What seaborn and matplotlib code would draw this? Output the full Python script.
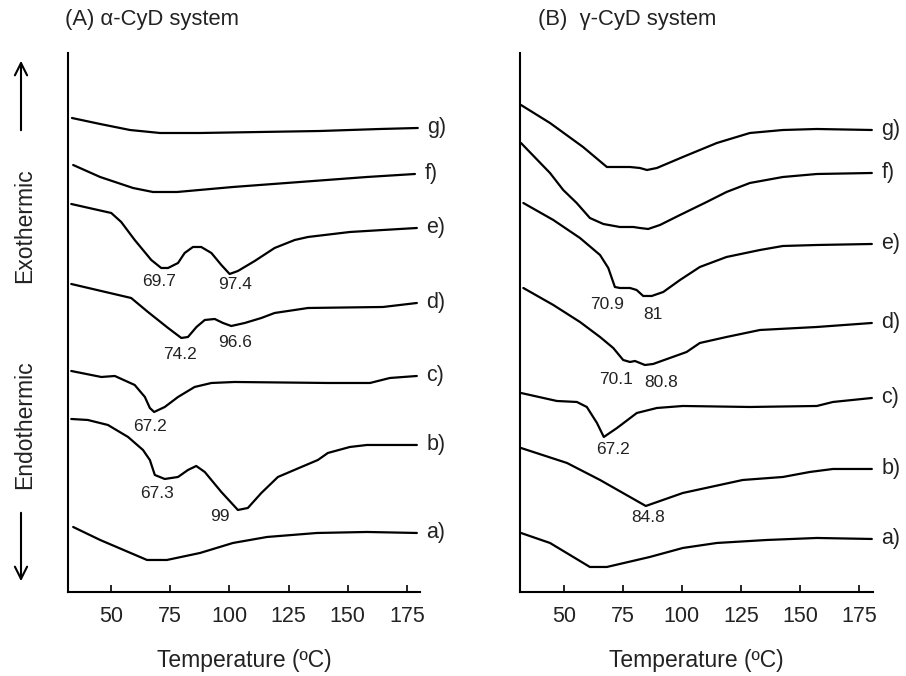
import numpy as np
import pandas as pd
import matplotlib
matplotlib.use("Agg")
import matplotlib.pyplot as plt
from matplotlib.patches import FancyArrowPatch
import seaborn as sns

# DSC thermograms, signal in arbitrary units relative to each curve's end point
samples = ["a)", "b)", "c)", "d)", "e)", "f)", "g)"]

# (A) alpha-CyD system
a_temp = {
    "g)": [33.5, 45.4, 58.0, 70.7, 87.6, 112.9, 138.3, 163.6, 179.6],
    "f)": [34.0, 45.4, 59.3, 67.7, 77.9, 101.5, 129.8, 158.1, 178.4],
    "e)": [33.2, 50.1, 54.3, 60.0, 67.0, 71.2, 74.1, 78.3, 81.1, 84.6, 88.1,
           92.4, 96.6, 100.1, 103.6, 110.7, 119.1, 127.6, 133.2, 150.9, 164.9,
           179.2],
    "d)": [33.2, 58.5, 65.6, 74.1, 79.7, 82.5, 86.1, 89.6, 93.8, 97.3, 100.8,
           106.5, 113.5, 119.1, 127.6, 133.2, 164.9, 179.2],
    "c)": [33.2, 45.9, 51.6, 60.0, 64.3, 66.4, 68.2, 72.7, 78.3, 85.3, 92.4,
           102.2, 141.6, 159.4, 167.8, 179.2],
    "b)": [33.2, 40.2, 48.7, 57.2, 63.5, 66.4, 68.5, 72.7, 78.3, 82.5, 86.0,
           89.6, 96.6, 103.6, 107.8, 113.5, 120.5, 130.4, 137.4, 141.6, 150.9,
           158.1, 179.2],
    "a)": [34.0, 45.4, 65.2, 73.6, 87.6, 101.5, 115.9, 137.0, 158.1, 179.2],
}
a_signal = {
    "g)": [10, 4, -2, -5, -5, -4, -3, -1, 0],
    "f)": [9, -3, -14, -18, -18, -13, -8, -3, 0],
    "e)": [24, 15, 6, -12, -32, -40, -40, -35, -25, -19, -19, -25, -37, -46,
           -43, -33, -20, -12, -9, -4, -2, 0],
    "d)": [19, 5, -9, -25, -35, -34, -24, -17, -16, -20, -23, -20, -15, -10,
           -7, -5, -4, 0],
    "c)": [5, -1, 0, -9, -21, -32, -36, -31, -21, -11, -7, -6, -7, -7, -2, 0],
    "b)": [26, 25, 20, 8, -5, -15, -30, -34, -32, -25, -21, -27, -47, -65,
           -63, -48, -32, -22, -15, -8, -2, 0, 0],
    "a)": [6, -7, -27, -27, -20, -10, -4, 0, 1, 0],
}
a_peaks = ["69.7", "97.4", "74.2", "96.6", "67.2", "67.3", "99"]

# (B) gamma-CyD system
b_temp = {
    "g)": [31.8, 44.1, 58.1, 68.2, 78.0, 82.2, 85.2, 89.4, 100.4, 114.8, 128.8,
           142.8, 157.2, 180.5],
    "f)": [31.8, 44.1, 49.7, 55.4, 61.0, 66.7, 73.7, 79.4, 82.2, 85.7, 90.7,
           99.2, 110.5, 118.9, 128.8, 142.8, 157.2, 180.5],
    "e)": [32.8, 45.5, 56.8, 65.3, 68.8, 71.6, 73.7, 78.0, 80.8, 83.6, 87.2,
           92.1, 99.2, 107.6, 118.9, 133.1, 142.8, 157.2, 180.5],
    "d)": [32.8, 45.5, 56.8, 65.3, 70.9, 75.1, 78.0, 80.1, 84.3, 87.8, 94.9,
           102.0, 107.6, 118.9, 133.1, 157.2, 180.5],
    "c)": [31.8, 47.0, 55.5, 59.7, 64.0, 66.9, 72.5, 80.9, 89.4, 100.4, 128.8,
           157.2, 164.0, 180.5],
    "b)": [31.8, 51.3, 65.3, 75.0, 84.7, 100.4, 125.8, 142.8, 154.2, 164.0, 180.5],
    "a)": [31.8, 44.1, 61.0, 68.2, 86.4, 100.4, 114.8, 136.0, 157.2, 180.5],
}
b_signal = {
    "g)": [25, 7, -17, -37, -37, -38, -40, -38, -27, -13, -3, 0, 1, 0],
    "f)": [30, 0, -17, -30, -45, -51, -54, -54, -55, -56, -52, -42, -29, -19,
           -10, -4, -1, 0],
    "e)": [41, 24, 6, -11, -24, -43, -44, -44, -46, -52, -52, -48, -36, -23,
           -13, -6, -2, -1, 0],
    "d)": [35, 18, 1, -14, -25, -37, -39, -38, -42, -41, -35, -29, -20, -14,
           -7, -4, 0],
    "c)": [5, -3, -4, -9, -25, -39, -30, -15, -10, -8, -9, -8, -4, 0],
    "b)": [21, 6, -11, -24, -37, -24, -11, -8, -3, 0, 0],
    "a)": [6, -4, -28, -28, -18, -9, -4, -1, 1, 0],
}
b_peaks = ["70.9", "81", "70.1", "80.8", "67.2", "84.8"]

xticks = [50, 75, 100, 125, 150, 175]

# layout: vertical stacking and label spots
a_offset = {"g)": 464, "f)": 418, "e)": 364, "d)": 289, "c)": 216, "b)": 147, "a)": 59}
b_offset = {"g)": 462, "f)": 419, "e)": 348, "d)": 269, "c)": 194, "b)": 123, "a)": 53}
a_peak_pos = [(70.1, 310), (102.4, 307), (79.1, 237), (102.4, 249),
              (66.5, 165), (69.4, 98), (96.0, 75)]
b_peak_pos = [(68.1, 287), (87.8, 277), (72.3, 212), (91.4, 209),
              (70.9, 142), (85.7, 74)]

sns.set_theme(style="ticks")
plt.rcParams["font.family"] = ["Liberation Sans", "DejaVu Sans"]
ink = "#222222"

fig = plt.figure(figsize=(9.06, 6.76), dpi=100)
ax_a = fig.add_axes([0.075, 0.1243, 0.3885, 0.7973])
ax_b = fig.add_axes([0.574, 0.1243, 0.3896, 0.7973])


def draw_panel(ax, temps, signal, offsets, peaks, peak_pos, xlim):
    rows = []
    for s in samples:
        for t, v in zip(temps[s], signal[s]):
            rows.append({"temp": t, "heat": v + offsets[s], "sample": s})
    df = pd.DataFrame(rows)
    sns.lineplot(data=df, x="temp", y="heat", units="sample", estimator=None,
                 color="black", lw=1.6, ax=ax, legend=False)
    for line in ax.lines:
        line.set_solid_joinstyle("round")
    for s in samples:
        ax.annotate(s, (temps[s][-1], offsets[s]), xytext=(7, 0),
                    textcoords="offset points", ha="left", va="center",
                    fontsize=15.5, color=ink, annotation_clip=False)
    for txt, (x, y) in zip(peaks, peak_pos):
        ax.text(x, y, txt, ha="center", va="center", fontsize=12.5, color=ink)
    ax.set_xlim(*xlim)
    ax.set_ylim(0, 539)
    ax.set_xticks(xticks)
    ax.set_yticks([])
    ax.tick_params(axis="x", direction="in", length=5, width=1.2,
                   labelsize=15.5, pad=10, colors="black", labelcolor=ink)
    for side in ["top", "right"]:
        ax.spines[side].set_visible(False)
    for side in ["left", "bottom"]:
        ax.spines[side].set_linewidth(1.5)
        ax.spines[side].set_color("black")
    ax.set_xlabel("Temperature (ºC)", fontsize=16.5, color=ink, labelpad=16)
    ax.set_ylabel("")


draw_panel(ax_a, a_temp, a_signal, a_offset, a_peaks, a_peak_pos, (31.8, 180.5))
draw_panel(ax_b, b_temp, b_signal, b_offset, b_peaks, b_peak_pos, (31.4, 181.0))

fig.text(65 / 906, 1 - 20 / 676, "(A) α-CyD system", ha="left", va="center",
         fontsize=15.8, color=ink)
fig.text(538 / 906, 1 - 20 / 676, "(B)  γ-CyD system", ha="left", va="center",
         fontsize=15.8, color=ink)

fig.text(25 / 906, 1 - 226 / 676, "Exothermic", rotation=90, ha="center",
         va="center", fontsize=16.5, color=ink)
fig.text(25 / 906, 1 - 425 / 676, "Endothermic", rotation=90, ha="center",
         va="center", fontsize=16.5, color=ink)
arrow = dict(arrowstyle="->", color="black", lw=1.5, mutation_scale=22)
fig.add_artist(FancyArrowPatch((21 / 906, 1 - 133 / 676), (21 / 906, 1 - 58 / 676),
                               transform=fig.transFigure, **arrow))
fig.add_artist(FancyArrowPatch((21 / 906, 1 - 510 / 676), (21 / 906, 1 - 584 / 676),
                               transform=fig.transFigure, **arrow))

fig.savefig("out.png", dpi=100, facecolor="white")
